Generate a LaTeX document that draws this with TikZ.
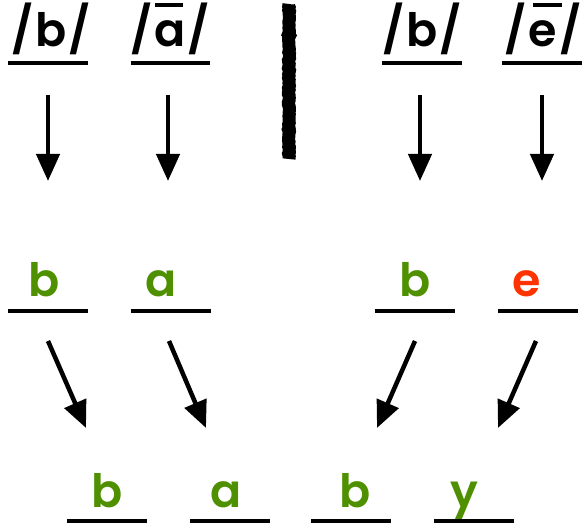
\documentclass[tikz,border=0pt]{standalone}
\usepackage{fontspec}
\setmainfont{Poppins}[BoldFont={* SemiBold}]
\usetikzlibrary{arrows.meta,decorations.pathmorphing}
\definecolor{okgreen}{HTML}{4E9000}
\definecolor{errred}{HTML}{FF3300}
\tikzset{
  lbl/.style={inner sep=0pt, anchor=base, font=\fontsize{46}{46}\selectfont\bfseries},
  uline/.style={line width=4.5pt},
  macr/.style={line width=4pt},
  arr/.style={line width=4.5pt, -{Triangle[width=23pt,length=27pt]}},
}
\begin{document}
\begin{tikzpicture}[x=1pt,y=-1pt]
\useasboundingbox (0,0) rectangle (582,524);
% top row
\node[lbl] (t1) at (51,47) {/\hspace{2pt}b\hspace{2pt}/};
\node[lbl] (t2) at (170,47) {/\hspace{2pt}a\hspace{2pt}/};
\node[lbl] (t3) at (422,47) {/\hspace{2pt}b\hspace{2pt}/};
\node[lbl] (t4) at (543,47) {/\hspace{2pt}e\hspace{2pt}/};
\draw[macr] (155,5) -- (183,5);
\draw[macr] (533,5) -- (562,5);
\draw[uline] (8,63) -- (88,63);
\draw[uline] (131,63) -- (210,63);
\draw[uline] (382,63) -- (462,63);
\draw[uline] (502,63) -- (582,63);
% divider
\draw[line width=13pt, decorate, decoration={random steps,segment length=2pt,amplitude=0.6pt}] (289,4) -- (289,159);
% top arrows
\coordinate (a1s) at (48,95);  \coordinate (a1e) at (48,181);
\coordinate (a2s) at (168,95); \coordinate (a2e) at (168,181);
\coordinate (a3s) at (420,95); \coordinate (a3e) at (420,181);
\coordinate (a4s) at (542,95); \coordinate (a4e) at (542,181);
\draw[arr] (a1s) -- (a1e);
\draw[arr] (a2s) -- (a2e);
\draw[arr] (a3s) -- (a3e);
\draw[arr] (a4s) -- (a4e);
% middle row
\node[lbl, text=okgreen] (m1) at (44,297) {b};
\node[lbl, text=okgreen] (m2) at (161,297) {a};
\node[lbl, text=okgreen] (m3) at (415,297) {b};
\node[lbl, text=errred] (m4) at (527,297) {e};
\draw[uline] (8,311) -- (88,311);
\draw[uline] (131,311) -- (211,311);
\draw[uline] (375,311) -- (455,311);
\draw[uline] (498,311) -- (578,311);
% diagonal arrows
\coordinate (d1s) at (48,341);  \coordinate (d1e) at (86,428);
\coordinate (d2s) at (169,341); \coordinate (d2e) at (206,428);
\coordinate (d3s) at (415,341); \coordinate (d3e) at (377,428);
\coordinate (d4s) at (536,341); \coordinate (d4e) at (498,428);
\draw[arr] (d1s) -- (d1e);
\draw[arr] (d2s) -- (d2e);
\draw[arr] (d3s) -- (d3e);
\draw[arr] (d4s) -- (d4e);
% bottom row
\node[lbl, text=okgreen] (b1) at (107,507) {b};
\node[lbl, text=okgreen] (b2) at (226,507) {a};
\node[lbl, text=okgreen] (b3) at (355,507) {b};
\node[lbl, text=okgreen] (b4) at (464,507) {y};
\draw[uline] (67,521) -- (147,521);
\draw[uline] (190,521) -- (270,521);
\draw[uline] (311,521) -- (391,521);
\draw[uline] (434,521) -- (514,521);
\end{tikzpicture}
\end{document}
